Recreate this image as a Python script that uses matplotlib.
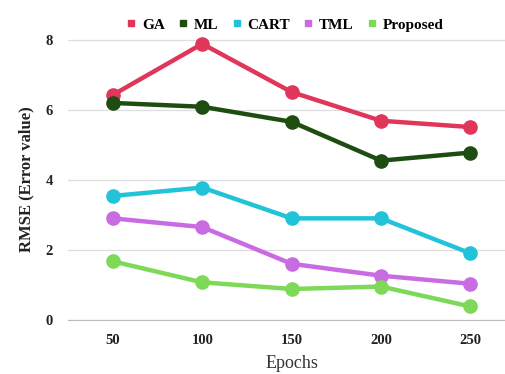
import matplotlib.pyplot as plt
import numpy as np

# Datos
epochs = ["50", "100", "150", "200", "250"]
ga = [6.43, 7.89, 6.51, 5.69, 5.51]
ml = [6.20, 6.09, 5.66, 4.55, 4.78]
cart = [3.54, 3.78, 2.90, 2.90, 1.90]
tml = [2.90, 2.65, 1.60, 1.26, 1.03]
proposed = [1.67, 1.07, 0.88, 0.95, 0.38]

series = [("GA", ga, "#E0365A"),
          ("ML", ml, "#1E4D12"),
          ("CART", cart, "#22C3D9"),
          ("TML", tml, "#C96BE3"),
          ("Proposed", proposed, "#7DD957")]

serif = ["Liberation Serif", "DejaVu Serif"]

fig = plt.figure(figsize=(5.05, 3.74), dpi=100)
ax = fig.add_axes([0.135, 0.145, 0.885, 0.75])

x = np.arange(len(epochs))
for name, vals, col in series:
    ax.plot(x, vals, color=col, lw=3.2, marker="o", ms=9.5, clip_on=False, zorder=3)
    ax.plot([], [], "s", color=col, ms=5, label=name)

ax.set_xlim(-0.5, 4.5)
ax.set_ylim(0, 8.02)
ax.set_yticks([0, 2, 4, 6, 8])
ax.set_xticks(x)
ax.set_xticklabels(epochs)
ax.grid(True, axis="y", color="#dddddd", lw=0.9)
ax.set_axisbelow(True)
for s in ["top", "right", "left"]:
    ax.spines[s].set_visible(False)
ax.spines["bottom"].set_color("#bbbbbb")
ax.tick_params(length=0)
ax.tick_params(axis="x", pad=10)
ax.tick_params(axis="y", pad=11)
for lab in ax.get_xticklabels() + ax.get_yticklabels():
    lab.set_fontfamily(serif)
    lab.set_fontweight("bold")
    lab.set_fontsize(10.5)
    lab.set_color("#222222")

ax.set_xlabel("Epochs", family=serif, fontsize=13, color="#333333", labelpad=6)
ax.set_ylabel("RMSE (Error value)", family=serif, fontsize=12, fontweight="bold",
              color="#222222", labelpad=8)

leg = ax.legend(loc="lower center", bbox_to_anchor=(0.485, 1.0), ncol=5, frameon=False,
                prop={"family": serif, "weight": "bold", "size": 11},
                handlelength=0.6, handletextpad=0.4, columnspacing=0.9,
                borderaxespad=0.1)

fig.savefig("out.png", dpi=100)
